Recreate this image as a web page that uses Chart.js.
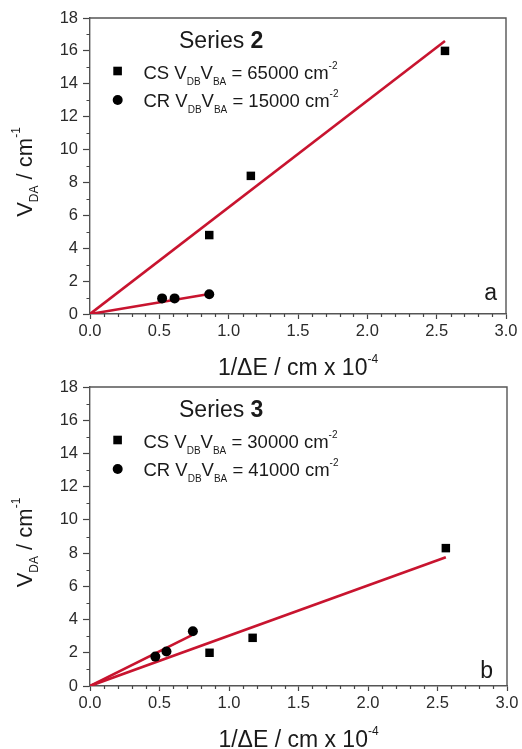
<!DOCTYPE html>
<html>
<head>
<meta charset="utf-8">
<script src="https://cdn.jsdelivr.net/npm/chart.js@4.4.1/dist/chart.umd.min.js"></script>
<style>
  html, body { margin: 0; padding: 0; background: #fff; }
  #wrap { position: relative; width: 522px; height: 749px; overflow: hidden; background: #fff; }
  canvas { position: absolute; left: 0; }
  #grafica_a { top: 0; }
  #grafica_b { top: 372px; }
</style>
</head>
<body>
<div id="wrap">
  <canvas id="grafica_a" width="522" height="381" style="width:522px;height:381px"></canvas>
  <canvas id="grafica_b" width="522" height="377" style="width:522px;height:377px"></canvas>
</div>
<script>
// ticks
const xTicks = [0, 0.5, 1.0, 1.5, 2.0, 2.5, 3.0];
const yTicks = [0, 2, 4, 6, 8, 10, 12, 14, 16, 18];

// Series 2 (panel a)
const a_csX = [0.86, 1.16, 2.56];
const a_csY = [4.8, 8.4, 16.0];
const a_crX = [0.52, 0.61, 0.86];
const a_crY = [0.95, 0.95, 1.2];
const a_csFitX = [0, 2.56];
const a_csFitY = [0, 16.6];
const a_crFitX = [0, 0.86];
const a_crFitY = [0, 1.22];

// Series 3 (panel b)
const b_csX = [0.86, 1.17, 2.56];
const b_csY = [2.0, 2.9, 8.3];
const b_crX = [0.47, 0.55, 0.74];
const b_crY = [1.77, 2.08, 3.3];
const b_csFitX = [0, 2.56];
const b_csFitY = [0, 7.75];
const b_crFitX = [0, 0.73];
const b_crFitY = [0, 3.05];

const FUENTE = "'Liberation Sans', Arial, Helvetica, sans-serif";
const ROJO = '#c8142f';
const TEXTO = '#1a1a1a';

function pares(xs, ys) {
  return xs.map((x, i) => ({ x: x, y: ys[i] }));
}

// dibuja texto con sub/superindices: partes = [texto, tamaño, dy, negrita]
function textoCompuesto(ctx, partes, x, y, centrado) {
  let ancho = 0;
  partes.forEach(p => {
    ctx.font = (p[3] ? 'bold ' : '') + p[1] + 'px ' + FUENTE;
    ancho += ctx.measureText(p[0]).width;
  });
  let cx = centrado ? x - ancho / 2 : x;
  partes.forEach(p => {
    ctx.font = (p[3] ? 'bold ' : '') + p[1] + 'px ' + FUENTE;
    ctx.fillText(p[0], cx, y + p[2]);
    cx += ctx.measureText(p[0]).width;
  });
}

const marcoPlugin = {
  id: 'marco',
  afterDraw(chart) {
    const ctx = chart.ctx;
    const area = chart.chartArea;
    const sx = chart.scales.x;
    const sy = chart.scales.y;
    const cfg = chart.options.plugins.marco;

    ctx.save();
    // marco superior y derecho
    ctx.strokeStyle = '#555';
    ctx.lineWidth = 1.4;
    ctx.beginPath();
    ctx.moveTo(area.left, area.top);
    ctx.lineTo(area.right, area.top);
    ctx.lineTo(area.right, area.bottom);
    ctx.stroke();

    // ticks menores
    ctx.strokeStyle = '#444';
    ctx.lineWidth = 1.2;
    ctx.beginPath();
    for (let i = 0; i < xTicks.length - 1; i++) {
      const paso = (xTicks[i + 1] - xTicks[i]) / 5;
      for (let k = 1; k < 5; k++) {
        const px = Math.round(sx.getPixelForValue(xTicks[i] + paso * k)) + 0.5;
        ctx.moveTo(px, area.bottom);
        ctx.lineTo(px, area.bottom + 3);
      }
    }
    for (let i = 0; i < yTicks.length - 1; i++) {
      const py = Math.round(sy.getPixelForValue((yTicks[i] + yTicks[i + 1]) / 2)) + 0.5;
      ctx.moveTo(area.left, py);
      ctx.lineTo(area.left - 3.5, py);
    }
    ctx.stroke();

    // leyenda
    ctx.fillStyle = TEXTO;
    ctx.textBaseline = 'alphabetic';
    ctx.textAlign = 'left';
    textoCompuesto(ctx, [['Series ', 23, 0, false], [cfg.serie, 23, 0, true]], 179, area.top + 29.5, false);

    ctx.fillStyle = '#000';
    ctx.fillRect(113.3, area.top + 53 - 4.3, 8.6, 8.6);
    ctx.beginPath();
    ctx.arc(117.7, area.top + 82, 5, 0, Math.PI * 2);
    ctx.fill();

    ctx.fillStyle = TEXTO;
    textoCompuesto(ctx, [
      ['CS V', 18.5, 0], ['DB', 10, 6], ['V', 18.5, 0], ['BA', 10, 6],
      [' = ' + cfg.cs + ' cm', 18.5, 0], ['-2', 10, -10]
    ], 143.5, area.top + 61, false);
    textoCompuesto(ctx, [
      ['CR V', 18.5, 0], ['DB', 10, 6], ['V', 18.5, 0], ['BA', 10, 6],
      [' = ' + cfg.cr + ' cm', 18.5, 0], ['-2', 10, -10]
    ], 143.5, area.top + 89, false);

    // letra del panel
    ctx.font = '23px ' + FUENTE;
    ctx.textAlign = 'right';
    ctx.fillText(cfg.letra, area.right - cfg.letraDx, area.bottom - cfg.letraDy);
    ctx.textAlign = 'left';

    // titulo eje x
    textoCompuesto(ctx, [['1/\u0394E / cm x 10', 23, 0], ['-4', 12, -12]],
      (area.left + area.right) / 2, area.bottom + 61, true);

    // titulo eje y
    ctx.translate(32, (area.top + area.bottom) / 2 + 6);
    ctx.rotate(-Math.PI / 2);
    textoCompuesto(ctx, [['V', 22, 0], ['DA', 12, 6], [' / cm', 22, 0], ['-1', 12, -12]], 0, 0, true);
    ctx.restore();
  }
};

function crearGrafica(id, d) {
  const ctx = document.getElementById(id).getContext('2d');
  const alto = ctx.canvas.height;
  return new Chart(ctx, {
    type: 'scatter',
    data: {
      datasets: [{
        label: 'CS',
        data: pares(d.csX, d.csY),
        pointStyle: 'rect',
        pointRadius: 6,
        borderWidth: 0,
        backgroundColor: '#000',
        borderColor: '#000',
        order: 1
      }, {
        label: 'CR',
        data: pares(d.crX, d.crY),
        pointStyle: 'circle',
        pointRadius: 5,
        borderWidth: 0,
        backgroundColor: '#000',
        borderColor: '#000',
        order: 1
      }, {
        label: 'CS ajuste',
        data: pares(d.csFitX, d.csFitY),
        showLine: true,
        pointRadius: 0,
        borderColor: ROJO,
        borderWidth: 2.6,
        order: 2
      }, {
        label: 'CR ajuste',
        data: pares(d.crFitX, d.crFitY),
        showLine: true,
        pointRadius: 0,
        borderColor: ROJO,
        borderWidth: 2.6,
        order: 2
      }]
    },
    options: {
      responsive: false,
      animation: false,
      events: [],
      layout: {
        padding: { left: 0, right: 522 - d.right, top: d.top, bottom: 0 }
      },
      scales: {
        x: {
          type: 'linear',
          min: 0,
          max: 3,
          afterBuildTicks: (s) => { s.ticks = xTicks.map(v => ({ value: v })); },
          afterFit: (s) => { s.height = alto - d.bottom; },
          ticks: {
            callback: (v) => Number(v).toFixed(1),
            font: { family: FUENTE, size: 16.5 },
            color: '#2a2a2a',
            padding: 3,
            maxRotation: 0,
            autoSkip: false
          },
          grid: { drawOnChartArea: false, tickLength: 5, tickColor: '#444', tickWidth: 1.2 },
          border: { color: '#555', width: 1.4 }
        },
        y: {
          type: 'linear',
          min: 0,
          max: 18,
          afterBuildTicks: (s) => { s.ticks = yTicks.map(v => ({ value: v })); },
          afterFit: (s) => { s.width = d.left; },
          ticks: {
            callback: (v) => String(v),
            font: { family: FUENTE, size: 16.5 },
            color: '#2a2a2a',
            padding: 5,
            autoSkip: false
          },
          grid: { drawOnChartArea: false, tickLength: 7, tickColor: '#444', tickWidth: 1.2 },
          border: { color: '#555', width: 1.4 }
        }
      },
      plugins: {
        legend: { display: false },
        tooltip: { enabled: false },
        marco: d.marco
      }
    },
    plugins: [marcoPlugin]
  });
}

crearGrafica('grafica_a', {
  csX: a_csX, csY: a_csY, crX: a_crX, crY: a_crY,
  csFitX: a_csFitX, csFitY: a_csFitY, crFitX: a_crFitX, crFitY: a_crFitY,
  left: 90, right: 506, top: 18, bottom: 314,
  marco: { serie: '2', cs: '65000', cr: '15000', letra: 'a', letraDx: 9, letraDy: 14.5 }
});

crearGrafica('grafica_b', {
  csX: b_csX, csY: b_csY, crX: b_crX, crY: b_crY,
  csFitX: b_csFitX, csFitY: b_csFitY, crFitX: b_crFitX, crFitY: b_crFitY,
  left: 90, right: 507, top: 15, bottom: 314,
  marco: { serie: '3', cs: '30000', cr: '41000', letra: 'b', letraDx: 14, letraDy: 8.5 }
});
</script>
</body>
</html>
